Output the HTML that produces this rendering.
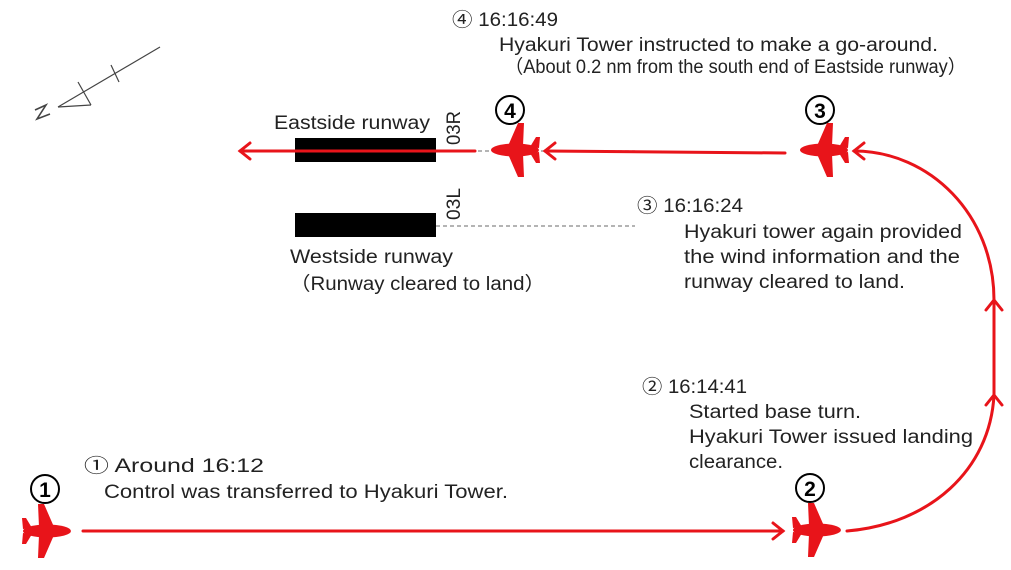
<!DOCTYPE html>
<html><head><meta charset="utf-8"><style>
body{margin:0;background:#fff}
svg{display:block}
text{font-family:"Liberation Sans","Noto Sans CJK JP",sans-serif;font-size:19px;fill:#222}
.n{font-size:21px;font-weight:bold;fill:#000;text-anchor:middle}
</style></head><body>
<svg width="1011" height="570" viewBox="0 0 1011 570">
<defs>
<g id="pl">
<ellipse cx="-2" cy="0" rx="24" ry="6.5" fill="#e8141a"/>
<path d="M-9,-4 L1,-27 L7,-27 L6,-4 Z M-9,4 L1,27 L7,27 L6,4 Z M13,-3 L19,-13 L23,-13 L22,-2 Z M13,3 L19,13 L23,13 L22,2 Z" fill="#e8141a"/>
</g>
</defs>
<g stroke="#444" stroke-width="1.2" fill="none">
<line x1="160" y1="47" x2="58" y2="107"/>
<line x1="58" y1="107" x2="91" y2="105"/>
<line x1="91" y1="105" x2="78" y2="82"/>
<line x1="111" y1="65" x2="119" y2="82"/>
<path d="M35,110 L46,105 L37,119 L50,114" stroke-width="1.6"/>
</g>
<rect x="295" y="138" width="141" height="24" fill="#000"/>
<rect x="295" y="213" width="141" height="24" fill="#000"/>
<g stroke="#888" stroke-width="1.2" stroke-dasharray="4,3">
<line x1="436" y1="151" x2="635" y2="151"/>
<line x1="436" y1="226" x2="635" y2="226"/>
</g>
<text x="274" y="129" textLength="156" lengthAdjust="spacingAndGlyphs">Eastside runway</text>
<text transform="translate(460,145) rotate(-90)" textLength="34" lengthAdjust="spacingAndGlyphs">03R</text>
<text transform="translate(460,220) rotate(-90)" textLength="32" lengthAdjust="spacingAndGlyphs">03L</text>
<text x="290" y="263" textLength="163" lengthAdjust="spacingAndGlyphs">Westside runway</text>
<text x="290" y="290" textLength="255" lengthAdjust="spacingAndGlyphs">（Runway cleared to land）</text>
<g stroke="#e8141a" stroke-width="3" fill="none" stroke-linecap="round">
<line x1="240" y1="151" x2="475" y2="151"/>
<path d="M250,143 L240,151 L250,159"/>
<line x1="545" y1="151" x2="785" y2="153"/>
<path d="M555,143 L545,151 L555,159"/>
<line x1="83" y1="531" x2="783" y2="531"/>
<path d="M773,523 L783,531 L773,539"/>
<path d="M847,531 C930,524 990,470 994,395 L994,300 C994,215 930,151 854,151"/>
<path d="M986,405 L994,395 L1002,405"/>
<path d="M986,310 L994,300 L1002,310"/>
<path d="M864,143 L854,151 L864,159"/>
</g>
<use href="#pl" transform="translate(517,150)"/>
<use href="#pl" transform="translate(826,150)"/>
<use href="#pl" transform="translate(45,531) scale(-1,1)"/>
<use href="#pl" transform="translate(815,530) scale(-1,1)"/>
<g fill="none" stroke="#000" stroke-width="2">
<circle cx="45" cy="489" r="14"/>
<circle cx="810" cy="488" r="14"/>
<circle cx="820" cy="110" r="14"/>
<circle cx="510" cy="110" r="14"/>
</g>
<text class="n" x="45" y="497">1</text>
<text class="n" x="810" y="496">2</text>
<text class="n" x="820" y="118">3</text>
<text class="n" x="510" y="118">4</text>
<text x="452" y="26" textLength="106" lengthAdjust="spacingAndGlyphs">④ 16:16:49</text>
<text x="499" y="51" textLength="439" lengthAdjust="spacingAndGlyphs">Hyakuri Tower instructed to make a go-around.</text>
<text x="505" y="73" textLength="461" lengthAdjust="spacingAndGlyphs">（About 0.2 nm from the south end of Eastside runway）</text>
<text x="637" y="212" textLength="106" lengthAdjust="spacingAndGlyphs">③ 16:16:24</text>
<text x="684" y="238" textLength="278" lengthAdjust="spacingAndGlyphs">Hyakuri tower again provided</text>
<text x="684" y="263" textLength="276" lengthAdjust="spacingAndGlyphs">the wind information and the</text>
<text x="684" y="288" textLength="221" lengthAdjust="spacingAndGlyphs">runway cleared to land.</text>
<text x="642" y="393" textLength="105" lengthAdjust="spacingAndGlyphs">② 16:14:41</text>
<text x="689" y="418" textLength="172" lengthAdjust="spacingAndGlyphs">Started base turn.</text>
<text x="689" y="443" textLength="284" lengthAdjust="spacingAndGlyphs">Hyakuri Tower issued landing</text>
<text x="689" y="468" textLength="94" lengthAdjust="spacingAndGlyphs">clearance.</text>
<text x="84" y="472" textLength="180" lengthAdjust="spacingAndGlyphs">① Around 16:12</text>
<text x="104" y="498" textLength="404" lengthAdjust="spacingAndGlyphs">Control was transferred to Hyakuri Tower.</text>
</svg>
</body></html>
